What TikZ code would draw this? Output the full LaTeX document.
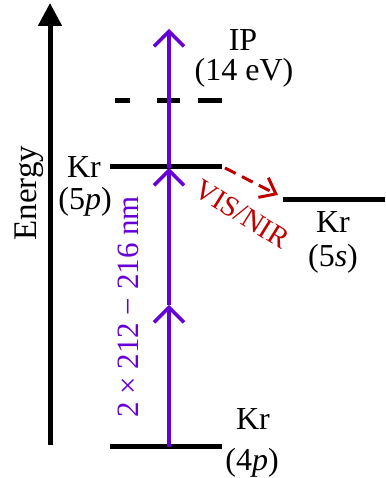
\documentclass[tikz,border=0pt]{standalone}
\usepackage{fontspec}
\setmainfont{Liberation Serif}
\usetikzlibrary{arrows.meta}
\definecolor{pumpviolet}{RGB}{102,0,214}
\definecolor{visred}{RGB}{192,0,0}
\tikzset{lvl/.style={line width=5pt},
  axisline/.style={line width=5pt,-{Triangle[length=23pt,width=23pt]}},
  pump/.style={line width=3.5pt,pumpviolet,-{Straight Barb[length=15pt,width=30pt,line width=3.5pt]}},
  decay/.style={line width=3pt,visred,dash pattern=on 12pt off 7pt,
    -{Straight Barb[length=14pt,width=22pt,line width=3pt]}},
  lab/.style={font=\fontsize{32}{35}\selectfont,inner sep=0pt}
}
\begin{document}
\begin{tikzpicture}[x=1pt,y=1pt]
  \useasboundingbox (0,0) rectangle (385,478);
  % energy axis
  \coordinate (ax0) at (50,33);
  \coordinate (ax1) at (50,475);
  \draw[axisline] (ax0) -- (ax1);
  \node[lab,rotate=90,font=\fontsize{33}{36}\selectfont] (energy) at (29,285) {Energy};

  % levels
  \coordinate (g0) at (110,31);   \coordinate (g1) at (222,31);
  \coordinate (p0) at (110,311);  \coordinate (p1) at (222,311);
  \coordinate (i0) at (115,377);  \coordinate (i1) at (222,377);
  \coordinate (s0) at (283,278);  \coordinate (s1) at (385,278);
  \draw[lvl] (g0) -- (g1);
  \draw[lvl] (p0) -- (p1);
  \draw[lvl,dash pattern=on 15pt off 27pt on 23pt off 18pt on 24pt] (i0) -- (i1);
  \draw[lvl] (s0) -- (s1);

  % two-photon excitation
  \coordinate (a0) at (169,31);
  \coordinate (a1) at (169,173);
  \coordinate (a2) at (169,310);
  \coordinate (a3) at (169,449);
  \draw[pump] (a0) -- (a1);
  \draw[pump] (a1) -- (a2);
  \draw[pump] (a2) -- (a3);
  \node[lab,rotate=90,text=pumpviolet,font=\fontsize{31}{34}\selectfont] (nm) at (128,171) {2 × 212 − 216 nm};

  % fluorescence
  \coordinate (f0) at (225,310);
  \coordinate (f1) at (278,283);
  \draw[decay] (f0) -- (f1);
  \node[lab,rotate=-32,text=visred,font=\fontsize{29}{32}\selectfont] (vis) at (242,264) {VIS/NIR};

  % labels
  \node[lab] (ip) at (243,438) {IP};
  \node[lab] (ipv) at (244,405) {(14 eV)};
  \node[lab] (kr5p) at (84,311) {Kr};
  \node[lab] (kr5pc) at (85,276) {(5\textit{p})};
  \node[lab] (kr5s) at (333,256) {Kr};
  \node[lab] (kr5sc) at (333,219) {(5\textit{s})};
  \node[lab] (kr4p) at (253,59) {Kr};
  \node[lab] (kr4pc) at (252,15) {(4\textit{p})};
\end{tikzpicture}
\end{document}
